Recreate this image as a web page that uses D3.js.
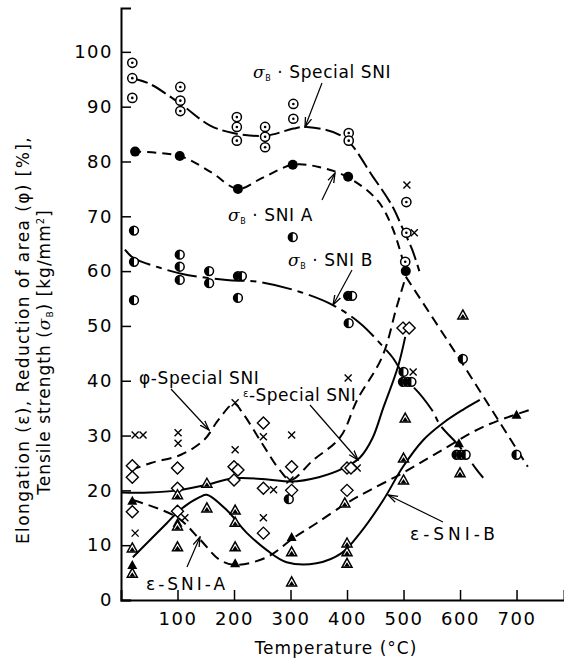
<!DOCTYPE html>
<html>
<head>
<meta charset="utf-8">
<script src="https://cdn.jsdelivr.net/npm/d3@7"></script>
<style>
  html, body { margin: 0; padding: 0; background: #fff; }
  svg { display: block; font-family: "DejaVu Sans", sans-serif; }
</style>
</head>
<body>
<svg id="chart" width="564" height="664"></svg>
<script>
// Axis ticks
const tempTicks = [100, 200, 300, 400, 500, 600, 700];
const valueTicks = [0, 10, 20, 30, 40, 50, 60, 70, 80, 90, 100];

// Measured points [temperature °C, value]
const sigmaSpecialPts = [[20,98],[20,95.2],[20,91.6],[105,93.6],[105,91.1],[105,89.2],[205,88.1],[205,86.3],[205,83.8],
  [255,86.3],[255,84.5],[255,82.6],[305,90.5],[305,87.8],[403,85.2],[403,83.8],[505,72.6],[505,67],[503,61.7]];
const sigmaAPts = [[25,81.8],[104,81],[207,75],[304,79.4],[402,77.2],[504,60]];
const sigmaBPts = [[23,67.4],[23,61.7],[23,54.7],[104,63],[104,60.8],[104,58.4],[156,60],[156,57.8],[207,59.1],[214,59.1],
  [207,55.1],[304,66.2],[402,55.5],[409,55.5],[403,50.5],[297,18.4],[500,41.6],[499,39.8],[507,39.8],[514,39.8],
  [594,26.5],[602,26.5],[610,26.5],[605,44],[700,26.5]];
const crossPts = [[25,30.1],[39,30.1],[25,12.2],[101,30.5],[101,28.6],[113,15],[202,27.4],[202,36],[252,29.8],[252,15],
  [270,20.1],[302,30.1],[299,21.9],[418,24.1],[402,40.5],[506,75.7],[519,67],[517,41.6]];
const diamondPts = [[20,24.5],[20,22.4],[20,16.1],[100,24.1],[100,20.4],[100,16.2],[200,24.3],[207,23.7],[200,21.9],
  [252,32.3],[252,20.4],[252,12.2],[302,24.3],[302,20],[400,24.1],[407,24.1],[400,20],[499,49.6],[510,49.6]];
const triAPts = [[20,18.1],[20,6.4],[100,14.1],[202,6.7],[302,11.5],[598,28.6],[700,33.8]];
const triBPts = [[20,9.5],[20,4.9],[100,19.2],[100,13.5],[100,9.7],[152,21.3],[152,16.8],[202,16.4],[202,14.2],[202,9.7],
  [302,8.8],[302,3.3],[396,17.7],[400,10.4],[400,8.8],[400,6.7],[503,33.2],[500,25.9],[500,21.9],[600,23.2],[605,52]];

// Fitted curves [temperature °C, value]
const sigmaSpecialCurve = [[20,95.2],[50,94.2],[104,90.6],[157,86.6],[198,85.2],[256,84.7],[305,86],[329,86.3],
  [393,84.5],[446,77.2],[481,71.7],[497,68.1],[515,64],[528,60]];
const sigmaACurve = [[20,81.8],[104,81],[160,78],[207,75],[250,77],[304,79.4],[350,79],[400,77.2],[453,73],[480,68],[504,60]];
const sigmaBCurve = [[7,63.9],[22,62.4],[69,60.6],[117,59.3],[187,58.4],[246,58],[317,56.2],[375,53.8],[423,50.5],
  [464,46.2],[481,44.2],[494,42],[505,39.8],[517,38.9],[550,34.7],[565,31.9],[600,27.9],[630,23.7],[641,22.3]];
const phiSpecialCurve = [[18,23.7],[53,25],[106,26.5],[147,29.2],[172,32.8],[200,35.8],[216,34],[250,28.5],[281,23.7],
  [300,21.9],[340,25.5],[388,29.7],[418,36.5],[462,44.3],[488,53.5],[504,59]];
const phiSpecialTail = [[504,59],[604,43.2],[720,24.3]];
const epsSpecialCurve = [[0,19.6],[50,19.6],[100,20],[150,21],[200,22.2],[260,22],[300,21.6],[350,22.4],[393,24],
  [423,26],[445,29.5],[464,35],[490,42.5],[503,48]];
const epsACurve = [[22,18.2],[99,15.1],[140,11],[175,7.3],[202,6.4],[258,7.8],[305,11.3],[346,14],[400,17.7],[440,20],
  [499,23.2],[559,26.8],[641,31.6],[724,34.7]];
const epsBCurve = [[21,7.8],[81,14],[104,16.4],[140,18.8],[152,19.2],[187,16.4],[223,12.2],[258,9.1],[293,6.9],[346,6.7],
  [391,8.6],[423,12.2],[464,18.2],[499,24.3],[535,29.2],[570,32.3],[605,34.7],[635,36.5]];

const svg = d3.select("#chart");
const x = d3.scaleLinear().domain([0, 784]).range([121, 564]);
const y = d3.scaleLinear().domain([0, 108]).range([600, 8]);

// Arrowhead
svg.append("defs").append("marker")
  .attr("id", "arrow").attr("viewBox", "0 0 10 10").attr("refX", 9).attr("refY", 5)
  .attr("markerWidth", 9).attr("markerHeight", 9).attr("orient", "auto")
  .append("path").attr("d", "M0,2 L9,5 L0,8").attr("fill", "none").attr("stroke", "#000").attr("stroke-width", 1.2);

// Axes
const yAxis = svg.append("g").attr("transform", `translate(${x(0)},0)`)
  .call(d3.axisLeft(y).tickValues(valueTicks).tickSize(-10).tickPadding(8).tickFormat(d3.format("d")));
const xAxis = svg.append("g").attr("transform", `translate(0,${y(0)})`)
  .call(d3.axisBottom(x).tickValues(tempTicks).tickSize(-10).tickPadding(12).tickFormat(d3.format("d")));
[yAxis, xAxis].forEach(g => {
  g.select(".domain").attr("stroke", "#000").attr("stroke-width", 2);
  g.selectAll(".tick line").attr("stroke", "#000").attr("stroke-width", 1.5);
  g.selectAll(".tick text").attr("fill", "#000").attr("font-size", 18).attr("letter-spacing", 1.5)
    .attr("font-family", "DejaVu Sans, sans-serif");
});

// Curves
const line = d3.line().x(d => x(d[0])).y(d => y(d[1])).curve(d3.curveCatmullRom.alpha(0.5));
function drawCurve(data, dash, width) {
  svg.append("path").datum(data).attr("d", line).attr("fill", "none").attr("stroke", "#000")
    .attr("stroke-width", width || 2).attr("stroke-dasharray", dash);
}
drawCurve(sigmaSpecialCurve, "16,5");
drawCurve(sigmaACurve, "9,6");
drawCurve(sigmaBCurve, "30,6,6,6");
drawCurve(phiSpecialCurve, "10,6");
svg.append("path").datum(phiSpecialTail).attr("d", d3.line().x(d => x(d[0])).y(d => y(d[1])))
  .attr("fill", "none").attr("stroke", "#000").attr("stroke-width", 2).attr("stroke-dasharray", "10,6");
drawCurve(epsSpecialCurve, null);
drawCurve(epsACurve, "10,6");
drawCurve(epsBCurve, null);

// Point symbols
const g = svg.append("g");
function pts(data, draw) {
  data.forEach(d => draw(g.append("g").attr("transform", `translate(${x(d[0])},${y(d[1])})`)));
}
pts(sigmaSpecialPts, s => {
  s.append("circle").attr("r", 4.6).attr("fill", "#fff").attr("stroke", "#000").attr("stroke-width", 1.5);
  s.append("circle").attr("r", 1.3).attr("fill", "#000");
});
pts(sigmaAPts, s => s.append("circle").attr("r", 5).attr("fill", "#000"));
pts(sigmaBPts, s => {
  s.append("circle").attr("r", 4.4).attr("fill", "#fff").attr("stroke", "#000").attr("stroke-width", 1.5);
  s.append("path").attr("d", "M0,-4.4 A4.4,4.4 0 0 0 0,4.4 Z").attr("fill", "#000");
});
pts(crossPts, s => s.append("path").attr("d", "M-3.5,-3.5L3.5,3.5M-3.5,3.5L3.5,-3.5")
  .attr("stroke", "#000").attr("stroke-width", 1.4));
pts(diamondPts, s => s.append("path").attr("d", "M0,-6L6,0L0,6L-6,0Z")
  .attr("fill", "#fff").attr("stroke", "#000").attr("stroke-width", 1.4));
pts(triAPts, s => s.append("path").attr("d", "M0,-5L5,4L-5,4Z").attr("fill", "#000"));
pts(triBPts, s => {
  s.append("path").attr("d", "M0,-5L5,4L-5,4Z").attr("fill", "#fff").attr("stroke", "#000").attr("stroke-width", 1.5);
  s.append("path").attr("d", "M0,-1L3,3.5L-3,3.5Z").attr("fill", "#000");
});

// Curve labels
function sigmaLabel(px, py, rest) {
  const t = svg.append("text").attr("x", px).attr("y", py).attr("font-size", 17).attr("letter-spacing", 0.6)
    .attr("fill", "#000");
  t.append("tspan").attr("font-style", "italic").attr("font-family", "DejaVu Serif, serif").text("σ");
  t.append("tspan").attr("font-size", 8).attr("dy", 3).text("B");
  t.append("tspan").attr("dy", -3).text(rest);
}
sigmaLabel(253, 78, " · Special SNI");
sigmaLabel(228, 221, " · SNI  A");
sigmaLabel(288, 266, " · SNI B");
svg.append("text").attr("x", 139).attr("y", 384).attr("font-size", 17).attr("letter-spacing", 0.6)
  .text("φ-Special SNI");
const es = svg.append("text").attr("x", 243).attr("y", 401).attr("font-size", 17).attr("letter-spacing", 0.5);
es.append("tspan").attr("font-size", 10).attr("dy", -4).text("ε");
es.append("tspan").attr("dy", 4).text("-Special SNI");
svg.append("text").attr("x", 146).attr("y", 590).attr("font-size", 17).attr("letter-spacing", 3).text("ε-SNI-A");
svg.append("text").attr("x", 410).attr("y", 540).attr("font-size", 17).attr("letter-spacing", 4).text("ε-SNI-B");

// Leader arrows
const arrows = [[[322,83],[305,127]], [[322,200],[335,173]], [[352,270],[333,305]], [[171,389],[209,430]],
  [[310,405],[358,460]], [[187,567],[200,537]], [[443,522],[388,495]]];
arrows.forEach(a => svg.append("line").attr("x1", a[0][0]).attr("y1", a[0][1]).attr("x2", a[1][0]).attr("y2", a[1][1])
  .attr("stroke", "#000").attr("stroke-width", 1.2).attr("marker-end", "url(#arrow)"));

// Axis titles
svg.append("text").attr("x", 336).attr("y", 654).attr("text-anchor", "middle").attr("font-size", 17)
  .attr("letter-spacing", 1).text("Temperature (°C)");
const yt = svg.append("text").attr("transform", "translate(29,340) rotate(-90)").attr("text-anchor", "middle")
  .attr("font-size", 17).attr("letter-spacing", 1.4);
yt.text("Elongation (ε), Reduction of area (φ) [%],");
const yt2 = svg.append("text").attr("transform", "translate(50,352) rotate(-90)").attr("text-anchor", "middle")
  .attr("font-size", 17).attr("letter-spacing", 1);
yt2.append("tspan").text("Tensile strength (");
yt2.append("tspan").attr("font-style", "italic").attr("font-family", "DejaVu Serif, serif").text("σ");
yt2.append("tspan").attr("font-size", 9).attr("dy", 3).text("B");
yt2.append("tspan").attr("dy", -3).text(") [kg/mm");
yt2.append("tspan").attr("font-size", 10).attr("dy", -6).text("2");
yt2.append("tspan").attr("dy", 6).text("]");
</script>
</body>
</html>
